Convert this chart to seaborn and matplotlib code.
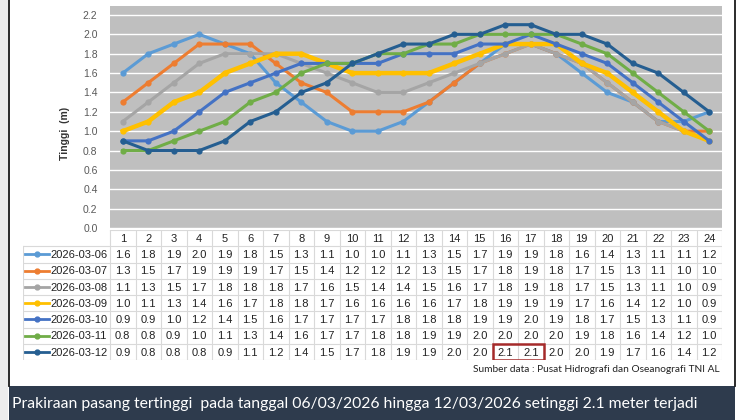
import numpy as np
import pandas as pd
import matplotlib
matplotlib.use("Agg")
import matplotlib.pyplot as plt
import seaborn as sns

# data jam ke-1 .. ke-24
jam = list(range(1, 25))
tanggal = ["2026-03-06", "2026-03-07", "2026-03-08", "2026-03-09",
           "2026-03-10", "2026-03-11", "2026-03-12"]
h_0306 = [1.6, 1.8, 1.9, 2.0, 1.9, 1.8, 1.5, 1.3, 1.1, 1.0, 1.0, 1.1, 1.3, 1.5, 1.7, 1.9, 1.9, 1.8, 1.6, 1.4, 1.3, 1.1, 1.1, 1.2]
h_0307 = [1.3, 1.5, 1.7, 1.9, 1.9, 1.9, 1.7, 1.5, 1.4, 1.2, 1.2, 1.2, 1.3, 1.5, 1.7, 1.8, 1.9, 1.8, 1.7, 1.5, 1.3, 1.1, 1.0, 1.0]
h_0308 = [1.1, 1.3, 1.5, 1.7, 1.8, 1.8, 1.8, 1.7, 1.6, 1.5, 1.4, 1.4, 1.5, 1.6, 1.7, 1.8, 1.9, 1.8, 1.7, 1.5, 1.3, 1.1, 1.0, 0.9]
h_0309 = [1.0, 1.1, 1.3, 1.4, 1.6, 1.7, 1.8, 1.8, 1.7, 1.6, 1.6, 1.6, 1.6, 1.7, 1.8, 1.9, 1.9, 1.9, 1.7, 1.6, 1.4, 1.2, 1.0, 0.9]
h_0310 = [0.9, 0.9, 1.0, 1.2, 1.4, 1.5, 1.6, 1.7, 1.7, 1.7, 1.7, 1.8, 1.8, 1.8, 1.9, 1.9, 2.0, 1.9, 1.8, 1.7, 1.5, 1.3, 1.1, 0.9]
h_0311 = [0.8, 0.8, 0.9, 1.0, 1.1, 1.3, 1.4, 1.6, 1.7, 1.7, 1.8, 1.8, 1.9, 1.9, 2.0, 2.0, 2.0, 2.0, 1.9, 1.8, 1.6, 1.4, 1.2, 1.0]
h_0312 = [0.9, 0.8, 0.8, 0.8, 0.9, 1.1, 1.2, 1.4, 1.5, 1.7, 1.8, 1.9, 1.9, 2.0, 2.0, 2.1, 2.1, 2.0, 2.0, 1.9, 1.7, 1.6, 1.4, 1.2]
semua = [h_0306, h_0307, h_0308, h_0309, h_0310, h_0311, h_0312]

warna = ["#5B9BD5", "#ED7D31", "#A5A5A5", "#FFC000", "#4472C4", "#70AD47", "#255E91"]
yticks = [0.0, 0.2, 0.4, 0.6, 0.8, 1.0, 1.2, 1.4, 1.6, 1.8, 2.0, 2.2]

judul = "Prakiraan pasang tertinggi  pada tanggal 06/03/2026 hingga 12/03/2026 setinggi 2.1 meter terjadi"
sumber = "Sumber data : Pusat Hidrografi dan Oseanografi TNI AL"

# bentuk long
df = pd.DataFrame({"jam": jam * len(tanggal),
                   "tanggal": np.repeat(tanggal, len(jam)),
                   "tinggi": np.concatenate(semua)})

W, H = 750, 420
fig = plt.figure(figsize=(7.5, 4.2), dpi=100, facecolor="white")

def px(x0, y0, x1, y1):
    return [x0 / W, 1 - y1 / H, (x1 - x0) / W, (y1 - y0) / H]

# latar & bingkai
bg = fig.add_axes([0, 0, 1, 1], zorder=-5)
bg.set_xlim(0, W); bg.set_ylim(H, 0); bg.axis("off")
bg.add_patch(plt.Rectangle((0, 0), 8, H, color="#EDEDED", lw=0))
bg.plot([9, 9], [0, 386], color="#1a1a1a", lw=1.3)
bg.plot([735, 735], [0, 386], color="#1a1a1a", lw=1.3)
bg.add_patch(plt.Rectangle((9, 386), 726, 34, color="#2E3B4D", lw=0))
bg.text(12, 404, judul, color="white", fontsize=11.3, family="Lato", va="center", ha="left")
bg.text(720, 369, sumber, color="#222222", fontsize=7.3, family="Lato", va="center", ha="right")

# grafik
ax = fig.add_axes(px(110, 6, 722, 228))
ax.set_facecolor("#BFBFBF")
ax.set_axisbelow(True)
ax.grid(axis="y", color="white", lw=1)
for i, t in enumerate(tanggal):
    sub = df[df.tanggal == t]
    sns.lineplot(data=sub, x="jam", y="tinggi", ax=ax, color=warna[i],
                 lw=3.2 if i == 3 else 2.2, marker="o", markersize=4.5,
                 markeredgewidth=0, legend=False)
ax.set_xlim(0.5, 24.5)
ax.set_ylim(0, 2.293)
ax.set_yticks(yticks)
ax.set_yticklabels([f"{v:.1f}" for v in yticks], fontsize=7.5, color="#595959", family="Liberation Sans")
ax.set_xticks([])
ax.set_xlabel(""); ax.set_ylabel("")
ax.tick_params(axis="y", length=0, pad=9)
for s in ax.spines.values():
    s.set_visible(False)
fig.text(65 / W, 1 - 133 / H, "Tinggi  (m)", rotation=90, fontsize=7.5, fontweight="bold",
         color="#333333", ha="center", va="center", family="Liberation Sans")

# tabel data
x0 = 0.5 - (110 - 23) / 25.5
at = fig.add_axes(px(23, 230, 722, 360))
at.set_xlim(x0, 24.5); at.set_ylim(8, 0); at.axis("off")
gc = "#D9D9D9"
for k in range(25):
    at.plot([k + 0.5, k + 0.5], [0, 8], color=gc, lw=0.8)
at.plot([x0, x0], [1, 8], color=gc, lw=0.8)
at.plot([0.5, 24.5], [0, 0], color=gc, lw=0.8)
for r in range(1, 9):
    at.plot([x0, 24.5], [r, r], color=gc, lw=0.8)
for j in jam:
    at.text(j, 0.55, str(j), ha="center", va="center", fontsize=8, family="Liberation Sans", color="#222222")
lx0 = 0.5 + (25 - 110) / 25.5
lx1 = 0.5 + (49 - 110) / 25.5
for i, t in enumerate(tanggal):
    yc = i + 1.55
    at.plot([lx0, lx1], [yc - 0.05, yc - 0.05], color=warna[i], lw=2)
    at.plot([(lx0 + lx1) / 2], [yc - 0.05], "o", color=warna[i], ms=3.5)
    at.text(0.5 + (50 - 110) / 25.5, yc, t, ha="left", va="center", fontsize=8,
            family="Liberation Sans", color="#222222")
    for j, v in zip(jam, semua[i]):
        at.text(j, yc, f"{v:.1f}", ha="center", va="center", fontsize=8,
                family="Liberation Sans", color="#222222")
# kotak merah nilai 2.1
at.add_patch(plt.Rectangle((15.5, 7.02), 2, 0.96, fill=False, ec="#A52A2A", lw=1.8, zorder=5))

fig.savefig("out.png", dpi=100, facecolor="white")
